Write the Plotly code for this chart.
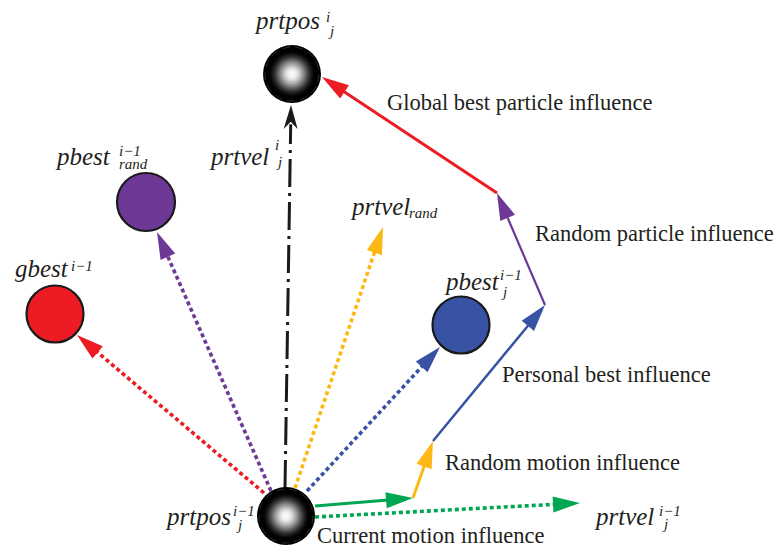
import numpy as np
import plotly.graph_objects as go

W, H = 777, 549

# ---------------- data (diagram positions, pixel space) ----------------
sphere_x = [286, 292]          # previous / current particle position
sphere_y = [516, 74]
sphere_r = [29, 29]

ball_x = [55, 146, 461]        # gbest, pbest_rand, pbest_j
ball_y = [314, 202, 325]
ball_r = [28.5, 29, 28.5]
ball_colors = ["#ED1C24", "#6E3996", "#3953A4"]

dot_x0 = [264, 271, 295, 307, 315]
dot_y0 = [493, 491, 488, 491, 517]
dot_x1 = [77, 157, 383, 440, 580]
dot_y1 = [335, 232, 227, 347, 503]
dot_colors = ["#ED1C24", "#6E3996", "#FDB913", "#3953A4", "#00A651"]

chain_x = [315, 413, 433, 545, 497, 322]
chain_y = [506, 498, 441, 305, 193, 77]
chain_colors = ["#00A651", "#FDB913", "#3953A4", "#6E3996", "#ED1C24"]
chain_widths = [3, 3, 2.5, 2.2, 3]

vel_x = [285, 291]
vel_y = [488, 105]

plain_labels = ["Global best particle influence", "Random particle influence",
                "Personal best influence", "Random motion influence",
                "Current motion influence"]
plain_x = [385, 533, 500, 443, 315]
plain_y = [102, 233, 374, 462, 535]

math_main = ["prtpos", "pbest", "gbest", "prtvel", "prtvel", "pbest", "prtpos", "prtvel"]
math_x = [252, 53, 13, 207, 348, 442, 163, 592]
math_y = [20, 156, 268, 156, 206, 281, 516, 516]

sup_text = ["i", "i\u22121", "i\u22121", "i", "i\u22121", "i\u22121", "i\u22121"]
sup_x = [324, 117, 69, 273, 498, 231, 657]
sup_y = [17, 151, 266, 145, 275, 511, 511]

sub_text = ["j", "rand", "j", "rand", "j", "j", "j"]
sub_x = [326, 117, 274, 407, 499, 234, 660]
sub_y = [31, 164, 162, 213, 292, 525, 524]

FONT = "Liberation Serif, Times New Roman, serif"

fig = go.Figure()
shapes = []


def head(xt, yt, xs, ys, L=26, w=8, notch=1.0):
    d = np.array([xt - xs, yt - ys], float)
    u = d / np.hypot(*d)
    n = np.array([-u[1], u[0]])
    tip = np.array([xt, yt], float)
    base = tip - L * u
    p1 = base + w * n
    p2 = base - w * n
    pm = tip - notch * L * u
    pts = [tip, p1, pm, p2, tip]
    return [p[0] for p in pts], [p[1] for p in pts], tip - 0.8 * L * u


def arrow(x0, y0, x1, y1, color, width, dash, L=26, w=8, notch=1.0):
    hx, hy, end = head(x1, y1, x0, y0, L, w, notch)
    fig.add_trace(go.Scatter(x=[x0, end[0]], y=[y0, end[1]], mode="lines",
                             line=dict(color=color, width=width, dash=dash),
                             hoverinfo="skip", showlegend=False))
    fig.add_trace(go.Scatter(x=hx, y=hy, mode="lines", fill="toself",
                             fillcolor=color, line=dict(width=0, color=color),
                             hoverinfo="skip", showlegend=False))


# dotted vectors
for i in range(len(dot_x0)):
    arrow(dot_x0[i], dot_y0[i], dot_x1[i], dot_y1[i], dot_colors[i], 3.6,
          "4px,3px", L=27, w=8)

# velocity dash-dot
arrow(vel_x[0], vel_y[0], vel_x[1], vel_y[1], "#1a1a1a", 3,
      "28px,6px,3px,6px", L=24, w=7, notch=0.7)

# solid chain
for i in range(len(chain_colors)):
    arrow(chain_x[i], chain_y[i], chain_x[i + 1], chain_y[i + 1],
          chain_colors[i], chain_widths[i], "solid", L=27, w=8)

# coloured balls
for x, y, r, c in zip(ball_x, ball_y, ball_r, ball_colors):
    shapes.append(dict(type="circle", xref="x", yref="y", x0=x - r, x1=x + r,
                       y0=y - r, y1=y + r, fillcolor=c, opacity=1,
                       line=dict(color="#1a1a1a", width=2.2), layer="above"))


def smoothstep(a, b, v):
    t = min(max((v - a) / (b - a), 0.0), 1.0)
    return t * t * (3 - 2 * t)


# shaded spheres
N = 28
for k in range(N):
    frac = 1 - k / N
    b = int(250 * (1 - smoothstep(0.05, 0.85, frac)))
    col = f"rgb({b},{b},{b})"
    for x, y, r in zip(sphere_x, sphere_y, sphere_r):
        rr = r * frac
        shapes.append(dict(type="circle", xref="x", yref="y", x0=x - rr, x1=x + rr,
                           y0=y - rr, y1=y + rr, fillcolor=col, opacity=1,
                           line=dict(width=0), layer="above"))
    if k == 2:
        for x, y, r in zip(sphere_x, sphere_y, sphere_r):
            rr = r * 0.93
            shapes.append(dict(type="circle", xref="x", yref="y", x0=x - rr, x1=x + rr,
                               y0=y - rr, y1=y + rr, fillcolor="rgba(0,0,0,0)",
                               line=dict(width=0.8, color="rgba(120,120,120,0.45)", dash="8px,5px"),
                               layer="above"))

ann = []
for t, x, y in zip(plain_labels, plain_x, plain_y):
    ann.append(dict(text=t, x=x, y=y, xanchor="left", yanchor="middle", showarrow=False,
                    font=dict(family=FONT, size=22.5, color="#231F20")))
for t, x, y in zip(math_main, math_x, math_y):
    ann.append(dict(text=f"<i>{t}</i>", x=x, y=y, xanchor="left", yanchor="middle",
                    showarrow=False, font=dict(family=FONT, size=25, color="#231F20")))
for t, x, y in zip(sup_text, sup_x, sup_y):
    ann.append(dict(text=f"<i>{t}</i>", x=x, y=y, xanchor="left", yanchor="middle",
                    showarrow=False, font=dict(family=FONT, size=15, color="#231F20")))
for t, x, y in zip(sub_text, sub_x, sub_y):
    ann.append(dict(text=f"<i>{t}</i>", x=x, y=y, xanchor="left", yanchor="middle",
                    showarrow=False, font=dict(family=FONT, size=15, color="#231F20")))

fig.update_layout(
    width=W, height=H, margin=dict(l=0, r=0, t=0, b=0),
    paper_bgcolor="white", plot_bgcolor="white",
    xaxis=dict(range=[0, W], visible=False, fixedrange=True),
    yaxis=dict(range=[H, 0], visible=False, fixedrange=True),
    annotations=ann, shapes=shapes, showlegend=False,
)

fig.write_html("out.html", config={"displayModeBar": False},
               post_script="document.body.style.margin='0';document.body.style.overflow='hidden';")
